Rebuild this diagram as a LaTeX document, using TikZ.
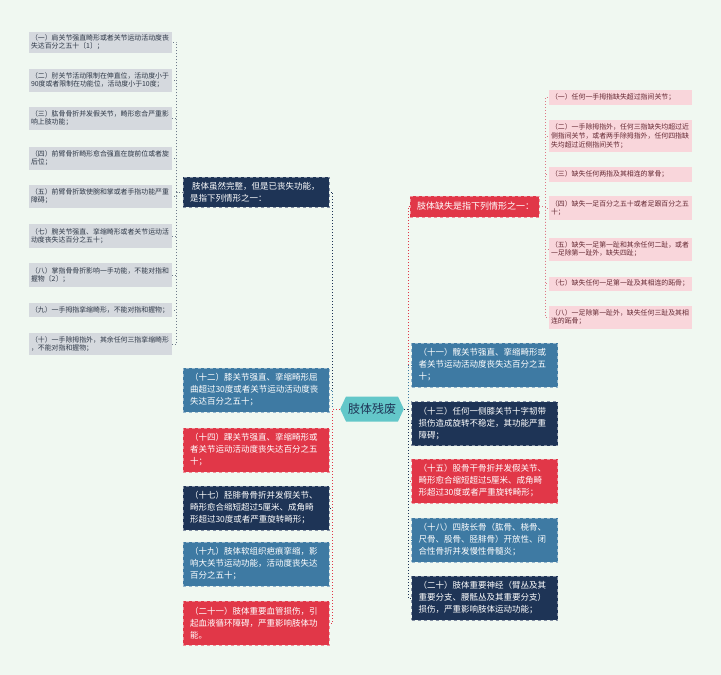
\documentclass[tikz,border=0pt]{standalone}
\usepackage{fontspec}
\setmainfont{Noto Sans CJK SC}
\usetikzlibrary{shapes.symbols}
\definecolor{bgc}{RGB}{240,248,241}
\definecolor{navyc}{RGB}{30,52,86}
\definecolor{bluec}{RGB}{62,122,163}
\definecolor{redc}{RGB}{225,55,72}
\definecolor{greyleaf}{RGB}{213,217,222}
\definecolor{pinkleaf}{RGB}{249,214,219}
\definecolor{rootc}{RGB}{99,199,201}
\definecolor{greyline}{RGB}{110,122,138}
\definecolor{pinkline}{RGB}{222,120,134}
\definecolor{leaftxt}{RGB}{45,55,70}
\definecolor{pinktxt}{RGB}{100,40,50}
\begin{document}
\begin{tikzpicture}[x=1pt,y=-1pt,
  leafL/.style={fill=greyleaf,text=leaftxt,font=\fontsize{6.9}{8.6}\selectfont,text width=139pt,align=left,inner xsep=2pt,inner ysep=2pt},
  leafR/.style={fill=pinkleaf,text=pinktxt,font=\fontsize{6.9}{8.6}\selectfont,text width=139pt,align=left,inner xsep=2pt,inner ysep=2pt},
  lvone/.style={fill=#1,draw=#1!55!white,dashed,line width=0.6pt,text=white,font=\fontsize{8.5}{12}\selectfont,text width=132pt,align=left,inner xsep=7pt,inner ysep=3pt,minimum height=44pt},
  conn/.style={dotted,line width=1pt,draw=#1},
  rootnode/.style={signal,signal to=west and east,signal pointer angle=130,fill=rootc,text=navyc,font=\fontsize{12}{14}\selectfont,inner xsep=2pt,inner ysep=3pt,minimum height=25pt}
]
\fill[bgc] (0,0) rectangle (721,675);
\useasboundingbox (0,0) rectangle (721,675);

% root
\node[rootnode] (root) at (372,409) {肢体残废};

% left level one
\node[lvone=navyc,minimum height=30pt] (A) at (256,192) {\hspace{2pt}肢体虽然完整，但是已丧失功能，\\是指下列情形之一：};
\node[lvone=bluec] (n12) at (256,390) {（十二）膝关节强直、挛缩畸形屈\\曲超过30度或者关节运动活动度丧\\失达百分之五十；};
\node[lvone=redc] (n14) at (256,450) {（十四）踝关节强直、挛缩畸形或\\者关节运动活动度丧失达百分之五\\十；};
\node[lvone=navyc] (n17) at (256,508) {（十七）胫腓骨骨折并发假关节、\\畸形愈合缩短超过5厘米、成角畸\\形超过30度或者严重旋转畸形；};
\node[lvone=bluec] (n19) at (256,564) {（十九）肢体软组织疤痕挛缩，影\\响大关节运动功能，活动度丧失达\\百分之五十；};
\node[lvone=redc] (n21) at (256,623) {（二十一）肢体重要血管损伤，引\\起血液循环障碍，严重影响肢体功\\能。};

% right level one
\node[lvone=redc,text width=115pt,minimum height=21pt,inner ysep=2pt,font=\fontsize{9}{12}\selectfont] (B) at (474.5,206.5) {肢体缺失是指下列情形之一：};
\node[lvone=bluec] (n11) at (484.5,365) {（十一）髋关节强直、挛缩畸形或\\者关节运动活动度丧失达百分之五\\十；};
\node[lvone=navyc] (n13) at (484.5,423.5) {（十三）任何一侧膝关节十字韧带\\损伤造成旋转不稳定，其功能严重\\障碍；};
\node[lvone=redc] (n15) at (484.5,481) {（十五）股骨干骨折并发假关节、\\畸形愈合缩短超过5厘米、成角畸\\形超过30度或者严重旋转畸形；};
\node[lvone=bluec] (n18) at (484.5,540) {（十八）四肢长骨（肱骨、桡骨、\\尺骨、股骨、胫腓骨）开放性、闭\\合性骨折并发慢性骨髓炎；};
\node[lvone=navyc] (n20) at (484.5,598) {（二十）肢体重要神经（臂丛及其\\重要分支、腰骶丛及其重要分支）\\损伤，严重影响肢体运动功能；};

% left leaves
\node[leafL,minimum height=21pt] (l1) at (100.5,42) {（一）肩关节强直畸形或者关节运动活动度丧\\失达百分之五十〔1〕；};
\node[leafL,minimum height=23pt] (l2) at (100.5,80) {（二）肘关节活动限制在伸直位，活动度小于\\90度或者限制在功能位，活动度小于10度；};
\node[leafL,minimum height=23pt] (l3) at (100.5,118) {（三）肱骨骨折并发假关节，畸形愈合严重影\\响上肢功能；};
\node[leafL,minimum height=23pt] (l4) at (100.5,158) {（四）前臂骨折畸形愈合强直在旋前位或者旋\\后位；};
\node[leafL,minimum height=23pt] (l5) at (100.5,196) {（五）前臂骨折致使腕和掌或者手指功能严重\\障碍；};
\node[leafL,minimum height=24pt] (l7) at (100.5,236) {（七）腕关节强直、挛缩畸形或者关节运动活\\动度丧失达百分之五十；};
\node[leafL,minimum height=24pt] (l8) at (100.5,275) {（八）掌指骨骨折影响一手功能，不能对指和\\握物〔2〕；};
\node[leafL,minimum height=14pt] (l9) at (100.5,310) {（九）一手拇指挛缩畸形，不能对指和握物；};
\node[leafL,minimum height=22pt] (l10) at (100.5,344) {（十）一手除拇指外，其余任何三指挛缩畸形\\，不能对指和握物；};

% right leaves
\node[leafR,minimum height=15pt] (r1) at (620.5,97) {（一）任何一手拇指缺失超过指间关节；};
\node[leafR,minimum height=32pt] (r2) at (620.5,136) {（二）一手除拇指外，任何三指缺失均超过近\\侧指间关节，或者两手除拇指外，任何四指缺\\失均超过近侧指间关节；};
\node[leafR,minimum height=15pt] (r3) at (620.5,174.5) {（三）缺失任何两指及其相连的掌骨；};
\node[leafR,minimum height=24pt] (r4) at (620.5,208) {（四）缺失一足百分之五十或者足跟百分之五\\十；};
\node[leafR,minimum height=23pt] (r5) at (620.5,249) {（五）缺失一足第一趾和其余任何二趾，或者\\一足除第一趾外，缺失四趾；};
\node[leafR,minimum height=14pt] (r7) at (620.5,283.5) {（七）缺失任何一足第一趾及其相连的跖骨；};
\node[leafR,minimum height=23pt] (r8) at (620.5,317) {（八）一足除第一趾外，缺失任何三趾及其相\\连的跖骨；};

% root connectors left
\draw[conn=navyc] (root.west) -- ++(-7,0) |- (A.east);
\draw[conn=bluec] (root.west) -- ++(-7,0) |- (n12.east);
\draw[conn=redc] (root.west) -- ++(-7,0) |- (n14.east);
\draw[conn=navyc] (root.west) -- ++(-7,0) |- (n17.east);
\draw[conn=bluec] (root.west) -- ++(-7,0) |- (n19.east);
\draw[conn=redc] (root.west) -- ++(-7,0) |- (n21.east);
% root connectors right
\draw[conn=redc] (root.east) -- ++(4,0) |- (B.west);
\draw[conn=bluec] (root.east) -- ++(4,0) |- (n11.west);
\draw[conn=navyc] (root.east) -- ++(4,0) |- (n13.west);
\draw[conn=redc] (root.east) -- ++(4,0) |- (n15.west);
\draw[conn=bluec] (root.east) -- ++(4,0) |- (n18.west);
\draw[conn=navyc] (root.east) -- ++(4,0) |- (n20.west);

% left leaf connectors
\foreach \n in {l1,l2,l3,l4,l5,l7,l8,l9,l10}
  \draw[conn=greyline] (A.west) -- ++(-6,0) |- (\n.east);
% right leaf connectors
\foreach \n in {r1,r2,r3,r4,r5,r7,r8}
  \draw[conn=pinkline] (B.east) -- ++(6,0) |- (\n.west);
\end{tikzpicture}
\end{document}
